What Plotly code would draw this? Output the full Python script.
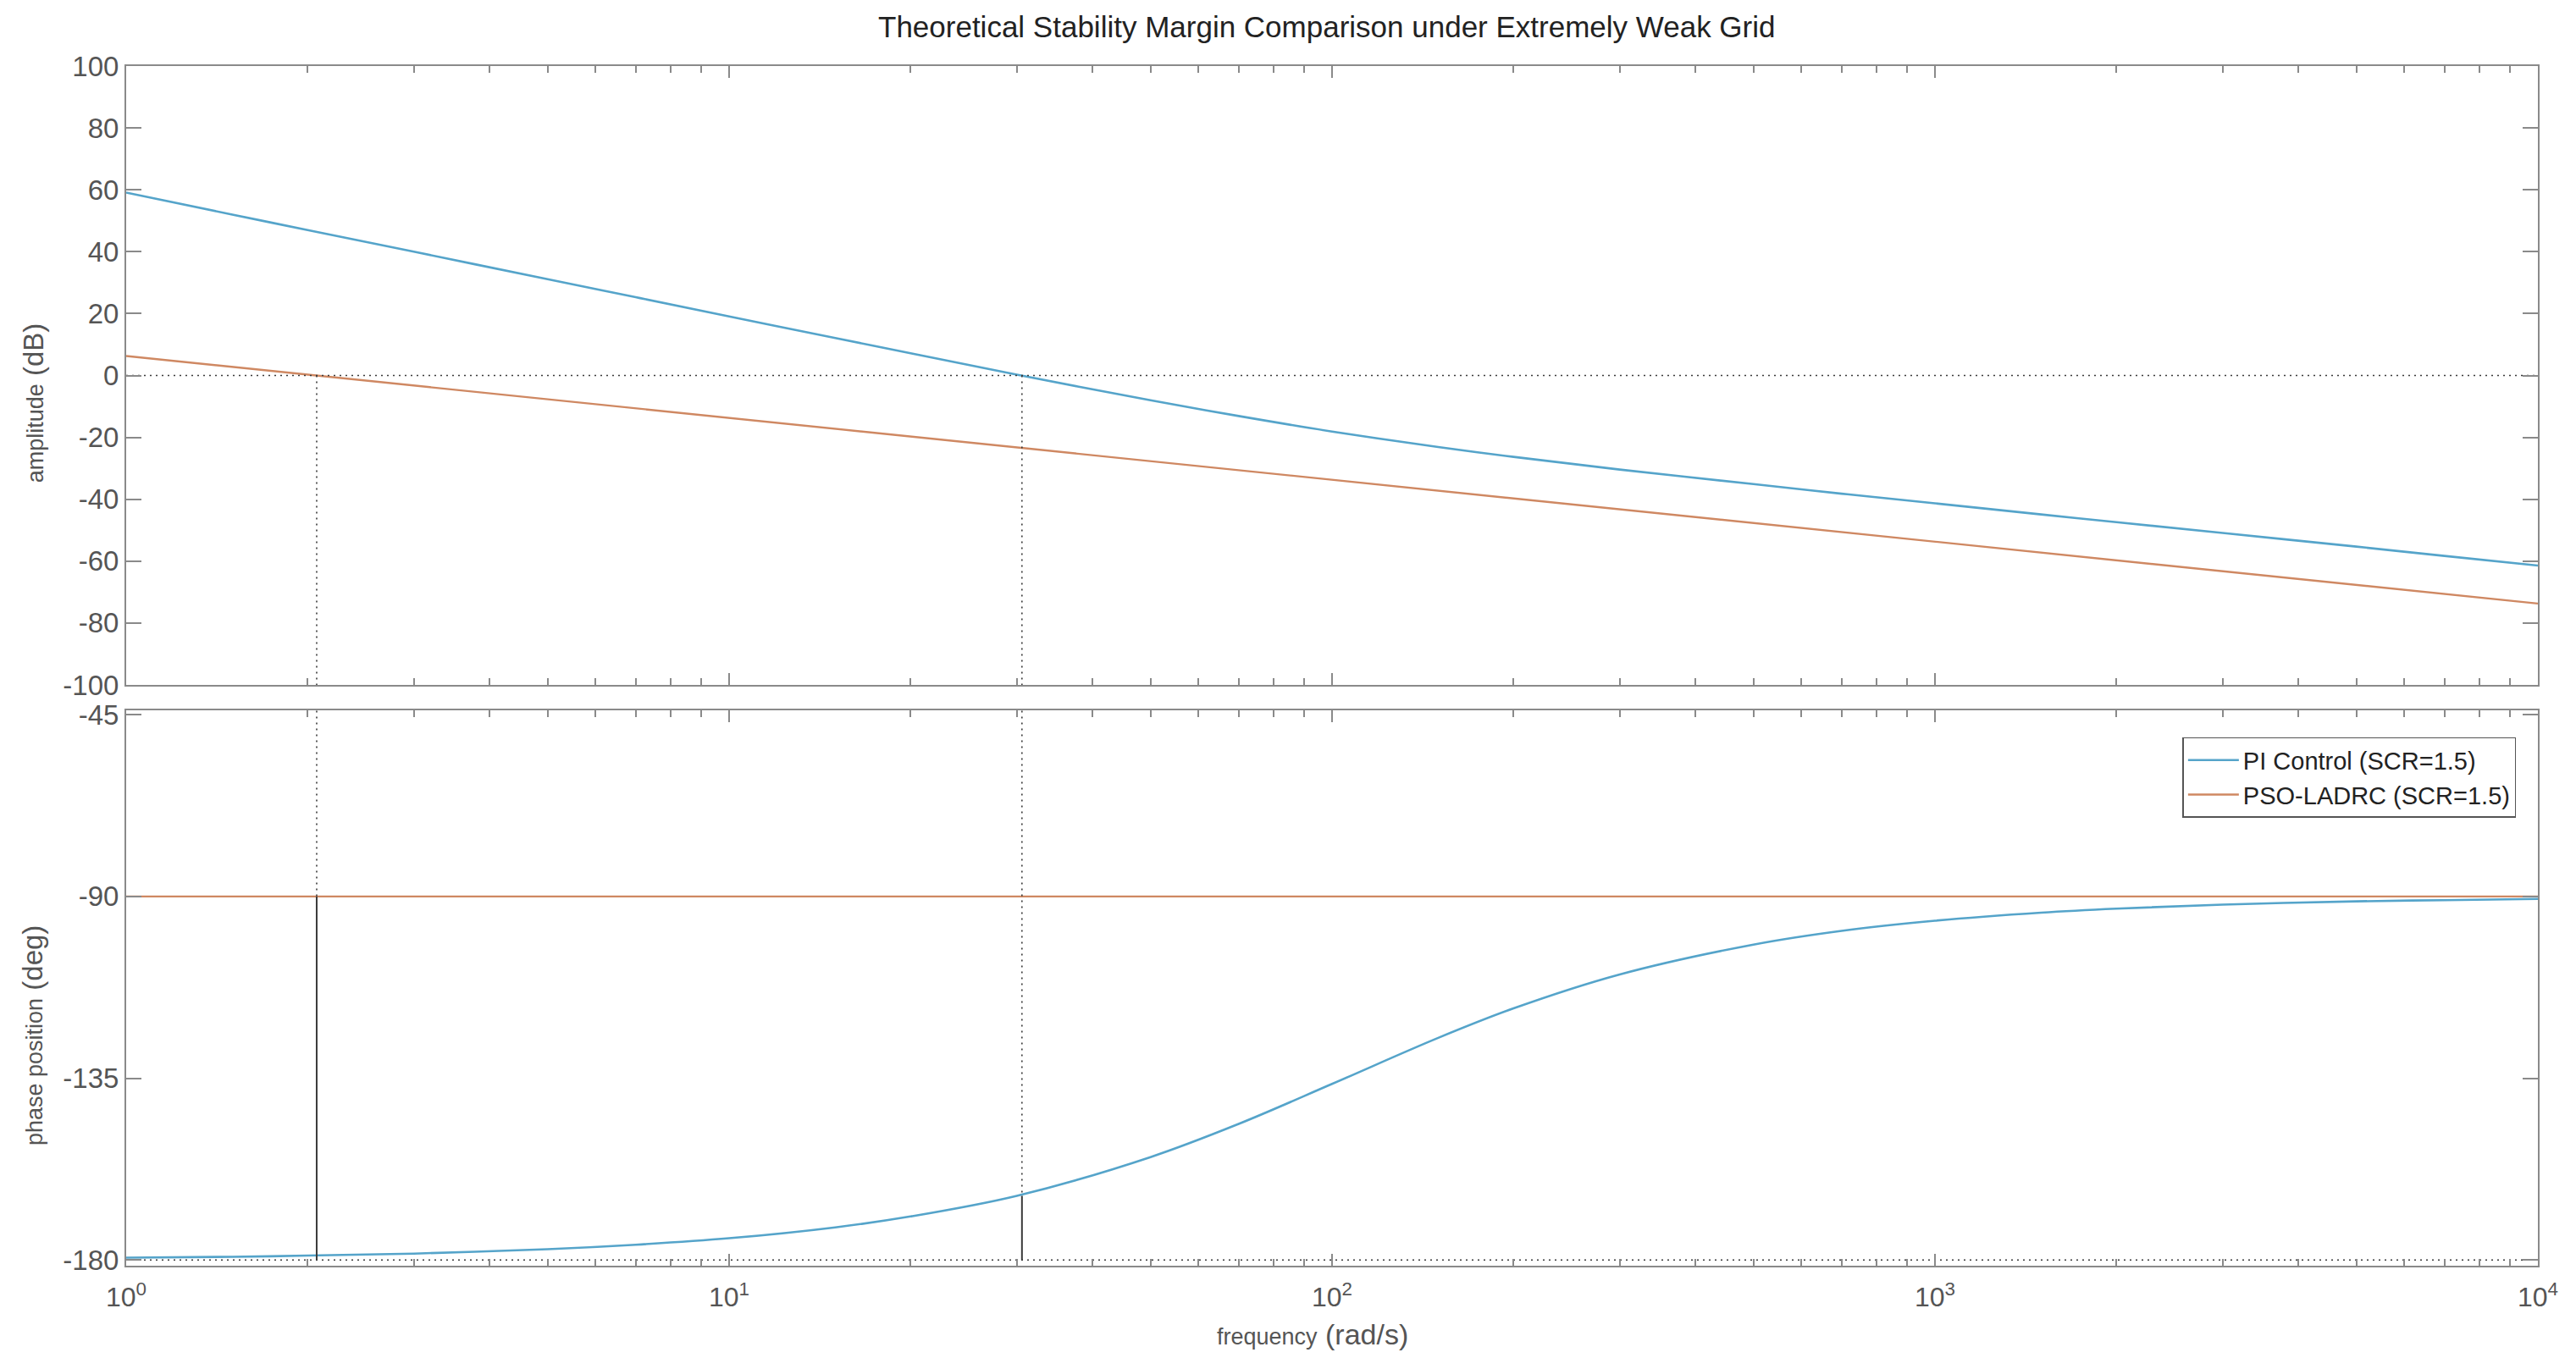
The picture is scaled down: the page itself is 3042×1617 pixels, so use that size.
import plotly.graph_objects as go

# ---------------- data ----------------
freq = [1, 1.5, 2, 3, 5, 7, 10, 15, 20, 30, 50, 70, 100, 150, 200, 300, 500,
        700, 1000, 1500, 2000, 3000, 5000, 7000, 10000]
pi_mag = [59.1, 52.0, 47.0, 40.0, 31.1, 25.3, 19.1, 12.1, 7.2, 0.3, -8.0, -13.1,
          -18.1, -23.1, -26.3, -30.4, -35.1, -38.2, -41.3, -44.9, -47.4, -50.9,
          -55.3, -58.3, -61.4]
pi_phase = [-179.4, -179.2, -178.9, -178.4, -177.3, -176.2, -174.6, -171.9, -169.2,
            -164.1, -154.5, -146.3, -136.4, -125.0, -117.7, -109.3, -101.9, -98.5,
            -96.0, -94.0, -93.0, -92.0, -91.2, -90.9, -90.6]

ladrc_freq = [1, 10, 100, 1000, 10000]
ladrc_mag = [6.3, -13.7, -33.7, -53.7, -73.7]
ladrc_phase = [-90, -90, -90, -90, -90]

# gain-crossover frequencies and the phase there (margin markers)
cross_freq = [2.07, 30.6]
cross_phase = [-90.0, -164.1]

series_names = ["PI Control (SCR=1.5)", "PSO-LADRC (SCR=1.5)"]
x_ticks = [1, 10, 100, 1000, 10000]
x_ticktext = ["10<sup>0</sup>", "10<sup>1</sup>", "10<sup>2</sup>", "10<sup>3</sup>", "10<sup>4</sup>"]
mag_ticks = [-100, -80, -60, -40, -20, 0, 20, 40, 60, 80, 100]
mag_ticktext = ["-100", "-80", "-60", "-40", "-20", "0", "20", "40", "60", "80", "100"]
phase_ticks = [-180, -135, -90, -45]
phase_ticktext = ["-180", "-135", "-90", "-45"]

# ---------------- styles ----------------
BLUE = "#55a4ca"
ORANGE = "#cf8862"
AXIS = "#8a8a8a"
MARK = "#3a3a3a"
FONT = "Liberation Sans, Arial, sans-serif"

minor_vals = [m * 10 ** d for d in range(4) for m in range(2, 10)]

fig = go.Figure()

# magnitude curves
fig.add_trace(go.Scatter(x=freq, y=pi_mag, mode="lines", name=series_names[0],
                         line=dict(color=BLUE, width=2.6, shape="spline"),
                         xaxis="x", yaxis="y", legendgroup="a"))
fig.add_trace(go.Scatter(x=ladrc_freq, y=ladrc_mag, mode="lines", name=series_names[1],
                         line=dict(color=ORANGE, width=2.4),
                         xaxis="x", yaxis="y", legendgroup="b"))

# phase curves
fig.add_trace(go.Scatter(x=freq, y=pi_phase, mode="lines", name=series_names[0],
                         line=dict(color=BLUE, width=2.6, shape="spline"),
                         xaxis="x2", yaxis="y2", showlegend=False, legendgroup="a"))
fig.add_trace(go.Scatter(x=ladrc_freq, y=ladrc_phase, mode="lines", name=series_names[1],
                         line=dict(color=ORANGE, width=2.4),
                         xaxis="x2", yaxis="y2", showlegend=False, legendgroup="b"))

dot = dict(color=MARK, width=1.6, dash="2px,5px")

# 0 dB reference line
fig.add_trace(go.Scatter(x=[x_ticks[0], x_ticks[-1]], y=[0, 0], mode="lines",
                         line=dot, xaxis="x", yaxis="y", showlegend=False, hoverinfo="skip"))
# -180 deg reference line
fig.add_trace(go.Scatter(x=[x_ticks[0], x_ticks[-1]], y=[-180, -180], mode="lines",
                         line=dot, xaxis="x2", yaxis="y2", showlegend=False, hoverinfo="skip"))

for fc, ph in zip(cross_freq, cross_phase):
    # dotted drop from 0 dB to bottom of magnitude plot
    fig.add_trace(go.Scatter(x=[fc, fc], y=[0, mag_ticks[0]], mode="lines", line=dot,
                             xaxis="x", yaxis="y", showlegend=False, hoverinfo="skip"))
    # dotted from top of phase plot to phase value
    fig.add_trace(go.Scatter(x=[fc, fc], y=[-44, ph], mode="lines", line=dot,
                             xaxis="x2", yaxis="y2", showlegend=False, hoverinfo="skip"))
    # solid phase-margin marker
    fig.add_trace(go.Scatter(x=[fc, fc], y=[-180, ph], mode="lines",
                             line=dict(color=MARK, width=2),
                             xaxis="x2", yaxis="y2", showlegend=False, hoverinfo="skip"))

common_x = dict(type="log", range=[0, 4], showgrid=False, zeroline=False,
                showline=True, linecolor=AXIS, linewidth=2, mirror="ticks",
                ticks="inside", ticklen=14, tickwidth=1.5, tickcolor=AXIS,
                tickvals=x_ticks,
                minor=dict(tickvals=minor_vals, ticks="inside", ticklen=8,
                           tickwidth=1.5, tickcolor=AXIS, showgrid=False))
common_y = dict(showgrid=False, zeroline=False, showline=True, linecolor=AXIS,
                linewidth=2, mirror="ticks", ticks="inside", ticklen=18,
                tickwidth=1.5, tickcolor=AXIS,
                tickfont=dict(family=FONT, size=33, color="#555555"))

fig.update_layout(
    width=3042, height=1617,
    margin=dict(l=149, r=45, t=78, b=122),
    paper_bgcolor="white", plot_bgcolor="white",
    font=dict(family=FONT, color="#333333"),
    xaxis=dict(common_x, domain=[0, 1], anchor="y", showticklabels=False),
    xaxis2=dict(common_x, domain=[0, 1], anchor="y2", matches="x",
                ticktext=x_ticktext, showticklabels=True,
                tickfont=dict(family=FONT, size=32, color="#555555"),
                ticklabelstandoff=8),
    yaxis=dict(common_y, domain=[0.4841, 1.0], range=[-100, 100],
               tickvals=mag_ticks, ticktext=mag_ticktext),
    yaxis2=dict(common_y, domain=[0.0, 0.463], range=[-181.4, -43.9],
                tickvals=phase_ticks, ticktext=phase_ticktext),
    showlegend=True,
    legend=dict(x=0.991, y=0.4404, xanchor="right", yanchor="top",
                bgcolor="white", bordercolor="#555555", borderwidth=1.5,
                font=dict(family=FONT, size=29, color="#222222"),
                tracegroupgap=0, itemwidth=60),
    annotations=[
        dict(text="Theoretical Stability Margin Comparison under Extremely Weak Grid",
             xref="paper", yref="paper", x=0.498, y=1.033, xanchor="center",
             yanchor="middle", showarrow=False,
             font=dict(family=FONT, size=35, color="#222222")),
        dict(text="<span style='font-size:27px'>amplitude</span> (dB)",
             xref="paper", yref="paper", x=-0.0386, y=0.719, xanchor="center",
             yanchor="middle", textangle=-90, showarrow=False,
             font=dict(family=FONT, size=33, color="#555555")),
        dict(text="<span style='font-size:27px'>phase position</span> (deg)",
             xref="paper", yref="paper", x=-0.0386, y=0.192, xanchor="center",
             yanchor="middle", textangle=-90, showarrow=False,
             font=dict(family=FONT, size=33, color="#555555")),
        dict(text="<span style='font-size:27px'>frequency</span> (rad/s)",
             xref="paper", yref="paper", x=0.492, y=-0.057, xanchor="center",
             yanchor="middle", showarrow=False,
             font=dict(family=FONT, size=34, color="#555555")),
    ],
)

fig.write_html("out.html")
